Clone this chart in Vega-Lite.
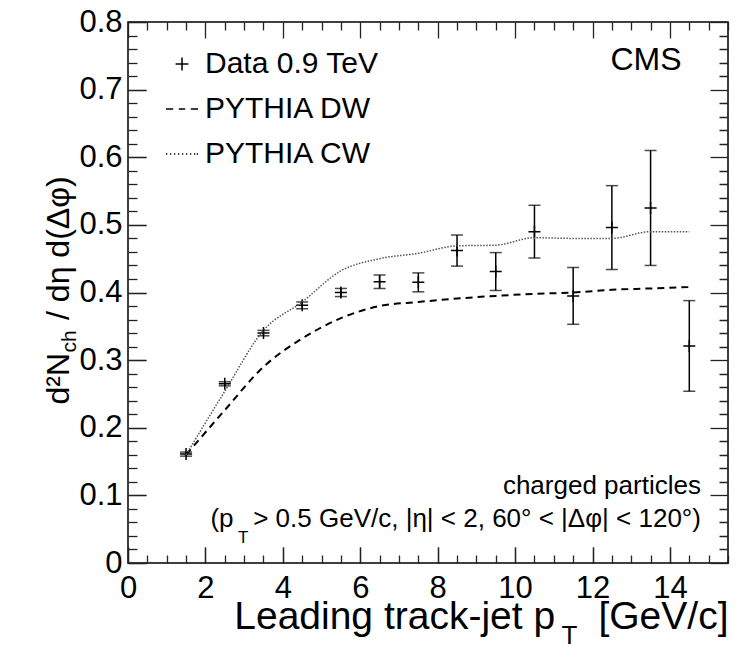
{
  "$schema": "https://vega.github.io/schema/vega-lite/v6.json",
  "width": 600,
  "height": 541,
  "autosize": {"type": "none"},
  "padding": {"left": 128, "top": 22, "right": 14, "bottom": 84},
  "background": "white",
  "config": {
    "font": "Liberation Sans",
    "view": {"stroke": "black", "strokeWidth": 1.5},
    "axis": {
      "domain": false, "grid": false, "ticks": true,
      "labelFont": "Liberation Sans", "labelFontSize": 31, "labelColor": "black",
      "tickColor": "#222", "tickWidth": 1.3,
      "labelOverlap": false, "labelFlush": false, "labelBound": false,
      "titleFont": "Liberation Sans", "titleFontWeight": "normal", "titleColor": "black"
    }
  },
  "datasets": {
    "data": [
      {"pt": 1.5, "y": 0.161, "err": 0.003, "series": "Data 0.9 TeV"},
      {"pt": 2.5, "y": 0.265, "err": 0.003, "series": "Data 0.9 TeV"},
      {"pt": 3.5, "y": 0.340, "err": 0.004, "series": "Data 0.9 TeV"},
      {"pt": 4.5, "y": 0.381, "err": 0.005, "series": "Data 0.9 TeV"},
      {"pt": 5.5, "y": 0.400, "err": 0.006, "series": "Data 0.9 TeV"},
      {"pt": 6.5, "y": 0.416, "err": 0.010, "series": "Data 0.9 TeV"},
      {"pt": 7.5, "y": 0.415, "err": 0.014, "series": "Data 0.9 TeV"},
      {"pt": 8.5, "y": 0.462, "err": 0.023, "series": "Data 0.9 TeV"},
      {"pt": 9.5, "y": 0.431, "err": 0.028, "series": "Data 0.9 TeV"},
      {"pt": 10.5, "y": 0.490, "err": 0.039, "series": "Data 0.9 TeV"},
      {"pt": 11.5, "y": 0.395, "err": 0.042, "series": "Data 0.9 TeV"},
      {"pt": 12.5, "y": 0.496, "err": 0.062, "series": "Data 0.9 TeV"},
      {"pt": 13.5, "y": 0.525, "err": 0.085, "series": "Data 0.9 TeV"},
      {"pt": 14.5, "y": 0.321, "err": 0.067, "series": "Data 0.9 TeV"}
    ],
    "mc": [
      {"pt": 1.5, "dw": 0.160, "cw": 0.160},
      {"pt": 2.5, "dw": 0.226, "cw": 0.254},
      {"pt": 3.5, "dw": 0.290, "cw": 0.344},
      {"pt": 4.5, "dw": 0.332, "cw": 0.386},
      {"pt": 5.5, "dw": 0.362, "cw": 0.432},
      {"pt": 6.5, "dw": 0.380, "cw": 0.450},
      {"pt": 7.5, "dw": 0.386, "cw": 0.458},
      {"pt": 8.5, "dw": 0.391, "cw": 0.469},
      {"pt": 9.5, "dw": 0.395, "cw": 0.470},
      {"pt": 10.5, "dw": 0.398, "cw": 0.481},
      {"pt": 11.5, "dw": 0.400, "cw": 0.480},
      {"pt": 12.5, "dw": 0.404, "cw": 0.480},
      {"pt": 13.5, "dw": 0.406, "cw": 0.490},
      {"pt": 14.5, "dw": 0.408, "cw": 0.490}
    ]
  },
  "layer": [
    {
      "data": {"name": "data"},
      "mark": {"type": "point", "filled": false, "stroke": "black", "strokeWidth": 1.5, "size": 900, "opacity": 1},
      "encoding": {
        "x": {
          "field": "pt", "type": "quantitative",
          "scale": {"domain": [0, 15.5], "nice": false, "zero": false},
          "axis": {
            "orient": "bottom", "offset": -16,
            "values": [0,2,4,6,8,10,12,14],
            "format": "d",
            "tickSize": 16,
            "labelPadding": 10,
            "title": "Leading track-jet p\u00a0\u00a0\u00a0\u00a0[GeV/c]",
            "titleFontSize": 39,
            "titleX": 600, "titleY": 81, "titleAlign": "right", "titleBaseline": "alphabetic", "titleAngle": 0
          }
        },
        "y": {
          "field": "y", "type": "quantitative",
          "scale": {"domain": [0, 0.8], "nice": false, "zero": false},
          "axis": {
            "orient": "left", "offset": -18,
            "values": [0,0.1,0.2,0.3,0.4,0.5,0.6,0.7,0.8],
            "labelExpr": "datum.value == 0 ? '0' : format(datum.value, '.1f')",
            "tickSize": 18,
            "labelPadding": 6,
            "title": "d\u00b2N\u00a0\u00a0\u00a0\u2009/ d\u03b7 d(\u0394\u03c6)",
            "titleFontSize": 32,
            "titleX": -78, "titleY": 268, "titleAlign": "center", "titleBaseline": "alphabetic", "titleAngle": -90
          }
        },
        "shape": {
          "field": "series", "type": "nominal",
          "scale": {
            "domain": ["Data 0.9 TeV", "PYTHIA DW", "PYTHIA CW"],
            "range": [
              "M-0.4,0H0.4M0,-0.4V0.4",
              "M-1,0H-0.55M-0.2,0H0.2M0.55,0H1",
              "M-1,0H-0.92M-0.75,0H-0.67M-0.5,0H-0.42M-0.25,0H-0.17M0,0H0.08M0.25,0H0.33M0.5,0H0.58M0.75,0H0.83M0.92,0H1"
            ]
          },
          "legend": {
            "orient": "none", "legendX": 37, "legendY": 25, "title": null,
            "labelFontSize": 30, "labelFont": "Liberation Sans", "labelColor": "black", "labelLimit": 0,
            "symbolSize": 1024, "symbolStrokeWidth": 1.5, "symbolStrokeColor": "black",
            "symbolFillColor": "transparent", "symbolOpacity": 1,
            "rowPadding": 13, "labelOffset": 6, "padding": 0
          }
        }
      }
    },
    {
      "data": {"name": "data"},
      "mark": {"type": "errorbar", "ticks": {"size": 12, "thickness": 1.5, "color": "black"}, "rule": {"strokeWidth": 1.5, "color": "black"}},
      "encoding": {
        "x": {"field": "pt", "type": "quantitative", "axis": null},
        "y": {"field": "y", "type": "quantitative", "axis": null},
        "yError": {"field": "err"}
      }
    },
    {
      "data": {"name": "mc"},
      "mark": {"type": "line", "interpolate": "monotone", "color": "black", "strokeWidth": 2, "strokeDash": [7, 5]},
      "encoding": {
        "x": {
          "field": "pt", "type": "quantitative",
          "scale": {"domain": [0, 15.5], "nice": false, "zero": false},
          "axis": {
            "orient": "top", "offset": -16,
            "values": [0,0.5,1,1.5,2,2.5,3,3.5,4,4.5,5,5.5,6,6.5,7,7.5,8,8.5,9,9.5,10,10.5,11,11.5,12,12.5,13,13.5,14,14.5,15,15.5],
            "labels": false,
            "tickSize": 16,
            "tickDash": {"condition": {"test": "datum.value % 2 === 0", "value": [1000, 1]}, "value": [0, 8, 8, 100]},
            "title": "T", "titleFontSize": 26,
            "titleX": 433, "titleY": 605, "titleAlign": "left", "titleBaseline": "alphabetic", "titleAngle": 0
          }
        },
        "y": {
          "field": "dw", "type": "quantitative",
          "scale": {"domain": [0, 0.8], "nice": false, "zero": false},
          "axis": {
            "orient": "right", "offset": -18,
            "values": [0,0.02,0.04,0.06,0.08,0.1,0.12,0.14,0.16,0.18,0.2,0.22,0.24,0.26,0.28,0.3,0.32,0.34,0.36,0.38,0.4,0.42,0.44,0.46,0.48,0.5,0.52,0.54,0.56,0.58,0.6,0.62,0.64,0.66,0.68,0.7,0.72,0.74,0.76,0.78,0.8],
            "labels": false,
            "tickSize": 18,
            "tickDash": {"condition": {"test": "abs(datum.value*10 - round(datum.value*10)) < 0.001", "value": [1000, 1]}, "value": [0, 9, 9, 100]},
            "title": "ch", "titleFontSize": 21,
            "titleX": -635, "titleY": 330, "titleAlign": "left", "titleBaseline": "alphabetic", "titleAngle": -90
          }
        }
      }
    },
    {
      "data": {"name": "mc"},
      "mark": {"type": "line", "interpolate": "monotone", "color": "#555", "strokeWidth": 1.5, "strokeDash": [1.5, 1.5]},
      "encoding": {
        "x": {
          "field": "pt", "type": "quantitative",
          "scale": {"domain": [0, 15.5], "nice": false, "zero": false},
          "axis": {
            "orient": "top", "offset": -541,
            "values": [0,0.5,1,1.5,2,2.5,3,3.5,4,4.5,5,5.5,6,6.5,7,7.5,8,8.5,9,9.5,10,10.5,11,11.5,12,12.5,13,13.5,14,14.5,15,15.5],
            "labels": false, "tickSize": 16, "title": null,
            "tickDash": {"condition": {"test": "datum.value % 2 === 0", "value": [1000, 1]}, "value": [8, 100]}
          }
        },
        "y": {
          "field": "cw", "type": "quantitative",
          "scale": {"domain": [0, 0.8], "nice": false, "zero": false},
          "axis": {
            "orient": "right", "offset": -600,
            "values": [0,0.02,0.04,0.06,0.08,0.1,0.12,0.14,0.16,0.18,0.2,0.22,0.24,0.26,0.28,0.3,0.32,0.34,0.36,0.38,0.4,0.42,0.44,0.46,0.48,0.5,0.52,0.54,0.56,0.58,0.6,0.62,0.64,0.66,0.68,0.7,0.72,0.74,0.76,0.78,0.8],
            "labels": false, "tickSize": 18, "title": null,
            "tickDash": {"condition": {"test": "abs(datum.value*10 - round(datum.value*10)) < 0.001", "value": [1000, 1]}, "value": [9, 100]}
          }
        }
      }
    },
    {
      "data": {"values": [{}]},
      "mark": {"type": "text", "align": "right", "baseline": "alphabetic", "fontSize": 32, "font": "Liberation Sans", "color": "black"},
      "encoding": {
        "x": {"datum": 14.3, "type": "quantitative", "axis": null},
        "y": {"datum": 0.729, "type": "quantitative", "axis": null},
        "text": {"value": "CMS"}
      }
    },
    {
      "data": {"values": [{}]},
      "mark": {"type": "text", "align": "right", "baseline": "alphabetic", "fontSize": 26, "font": "Liberation Sans", "color": "black"},
      "encoding": {
        "x": {"datum": 14.8, "type": "quantitative", "axis": null},
        "y": {"datum": 0.1015, "type": "quantitative", "axis": null},
        "text": {"value": "charged particles"}
      }
    },
    {
      "data": {"values": [{}]},
      "mark": {"type": "text", "align": "right", "baseline": "alphabetic", "fontSize": 26, "font": "Liberation Sans", "color": "black"},
      "encoding": {
        "x": {"datum": 14.8, "type": "quantitative", "axis": null},
        "y": {"datum": 0.0536, "type": "quantitative", "axis": null},
        "text": {"value": "(p\u00a0\u00a0\u2009> 0.5 GeV/c, |\u03b7| < 2, 60\u00b0 < |\u0394\u03c6| < 120\u00b0)"}
      }
    },
    {
      "data": {"values": [{}]},
      "mark": {"type": "text", "align": "left", "baseline": "alphabetic", "fontSize": 17, "font": "Liberation Sans", "color": "black"},
      "encoding": {
        "x": {"datum": 2.84, "type": "quantitative", "axis": null},
        "y": {"datum": 0.030, "type": "quantitative", "axis": null},
        "text": {"value": "T"}
      }
    }
  ],
  "resolve": {"axis": {"x": "independent", "y": "independent"}}
}
